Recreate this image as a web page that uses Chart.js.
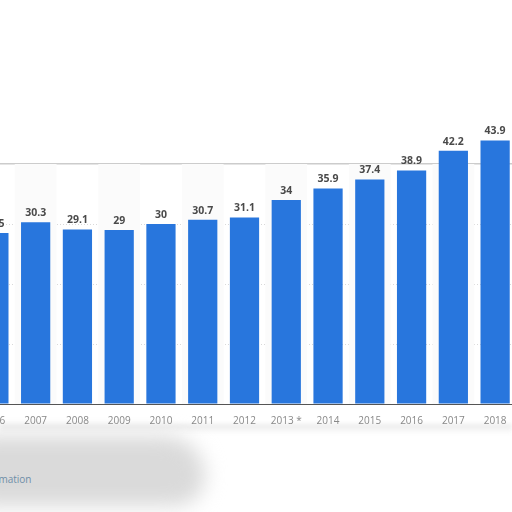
<!DOCTYPE html>
<html>
<head>
<meta charset="utf-8">
<script src="https://cdn.jsdelivr.net/npm/chart.js@4.4.1/dist/chart.umd.min.js"></script>
<style>
  html, body { margin: 0; padding: 0; background: #fff; overflow: hidden; }
  body { width: 512px; height: 512px; position: relative; }
  #wrap { position: absolute; left: -27px; top: 0; width: 543px; height: 512px; }
  #smudge {
    position: absolute; left: -20px; top: 436px; width: 225px; height: 70px;
    background: #dadada; filter: blur(10px); border-radius: 0 40px 30px 0;
  }
  #shadow {
    position: absolute; left: 0; top: 424px; width: 512px; height: 10px;
    background: linear-gradient(#e8e8e8, rgba(255,255,255,0)); filter: blur(2px);
  }
  #info {
    position: absolute; left: -74px; top: 472px; font: 10px "Open Sans", sans-serif;
    color: #6f8ea8; white-space: nowrap;
  }
</style>
</head>
<body>
<div id="shadow"></div>
<div id="smudge"></div>
<div id="info">Additional Information</div>
<div id="wrap"><canvas id="chart"></canvas></div>
<script>
//! Data
const years = ["2006", "2007", "2008", "2009", "2010", "2011", "2012", "2013 *", "2014", "2015", "2016", "2017", "2018"];
const values = [28.5, 30.3, 29.1, 29, 30, 30.7, 31.1, 34, 35.9, 37.4, 38.9, 42.2, 43.9];
const yTicks = [0, 10, 20, 30, 40];

//! faint alternating column stripes
const stripes = {
    id: "stripes",
    beforeDatasetsDraw(chart) {
        const { ctx, chartArea, scales } = chart;
        const x = scales.x;
        const w = x.getPixelForValue(1) - x.getPixelForValue(0);
        ctx.save();
        ctx.fillStyle = "#fbfbfb";
        years.forEach((y, i) => {
            if (i % 2 === 1) {
                const cx = x.getPixelForValue(i);
                ctx.fillRect(cx - w / 2, chartArea.top, w, chartArea.bottom - chartArea.top);
            }
        });
        ctx.restore();
    }
};

//! value labels above bars
const valueLabels = {
    id: "valueLabels",
    afterDatasetsDraw(chart) {
        const { ctx } = chart;
        const meta = chart.getDatasetMeta(0);
        ctx.save();
        ctx.font = "bold 10.5px 'Open Sans', sans-serif";
        ctx.fillStyle = "#4a4a4a";
        ctx.textAlign = "center";
        ctx.textBaseline = "bottom";
        meta.data.forEach((bar, i) => {
            ctx.fillText(String(values[i]), bar.x, bar.y - 4);
        });
        ctx.restore();
    }
};

const ctx = document.getElementById("chart").getContext("2d");
new Chart(ctx, {
    type: "bar",
    data: {
        labels: years,
        datasets: [{
            data: values,
            backgroundColor: "#2876dd",
            categoryPercentage: 1,
            barPercentage: 0.7,
            clip: false
        }]
    },
    options: {
        responsive: true,
        maintainAspectRatio: false,
        animation: false,
        layout: { padding: { top: 164, bottom: 82, left: 0, right: 0 } },
        plugins: {
            legend: { display: false },
            tooltip: { enabled: false }
        },
        scales: {
            x: {
                grid: { display: false },
                border: { display: true, color: "#555", width: 1 },
                ticks: {
                    color: "#888",
                    font: { size: 10, family: "'Open Sans', sans-serif" },
                    padding: 3,
                    maxRotation: 0,
                    autoSkip: false
                },
                afterFit(scale) { scale.height = 26; }
            },
            y: {
                min: 0,
                max: 40,
                afterBuildTicks(scale) { scale.ticks = yTicks.map(v => ({ value: v })); },
                ticks: { display: false },
                grid: {
                    drawTicks: false,
                    color: (c) => c.tick && c.tick.value === 40 ? "#cccccc" : "#d9d9d9",
                    lineWidth: (c) => c.tick && c.tick.value === 40 ? 1.5 : 1
                },
                border: {
                    display: false,
                    dash: (c) => c.tick && c.tick.value === 40 ? [] : [1, 2]
                },
                afterFit(scale) { scale.width = 0; }
            }
        }
    },
    plugins: [stripes, valueLabels]
});
</script>
</body>
</html>
